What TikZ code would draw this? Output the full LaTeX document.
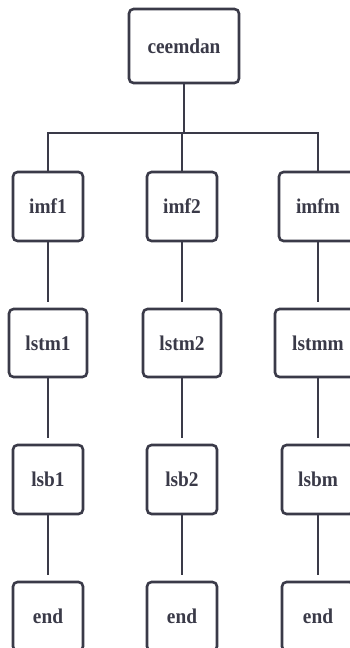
\documentclass[tikz,border=0pt]{standalone}
\usepackage{fontspec}
\setmainfont{Liberation Serif}[FakeStretch=0.92]
\begin{document}
\begin{tikzpicture}[x=1pt,y=-1pt,
  every node/.style={font=\fontsize{21}{24}\selectfont\bfseries, text=ink},
  stepbox/.style={draw=ink, line width=2.6pt, rounded corners=4.5pt, fill=white,
    minimum width=70pt, minimum height=69pt, inner sep=0pt},
  widebox/.style={stepbox, minimum width=78pt, minimum height=68pt},
  link/.style={draw=ink, line width=2.6pt},
  gaplink/.style={link, shorten >=6pt}]
\definecolor{ink}{HTML}{3A3A48}
\useasboundingbox (0,0) rectangle (350,648);
\fill[white] (0,0) rectangle (350,648);

% root and the bus that feeds the three branches
\node[stepbox, minimum width=110pt, minimum height=74pt] (root) at (184,46) {ceemdan};
\coordinate (bus) at (184,133);

% column 1
\node[stepbox] (imf1) at (48,206.5) {imf1};
\node[widebox] (lstm1) at (48,343) {lstm1};
\node[stepbox] (lsb1) at (48,479.5) {lsb1};
\node[stepbox] (end1) at (48,616.5) {end};

% column 2
\node[stepbox] (imf2) at (182,206.5) {imf2};
\node[widebox] (lstm2) at (182,343) {lstm2};
\node[stepbox] (lsb2) at (182,479.5) {lsb2};
\node[stepbox] (end2) at (182,616.5) {end};

% column m
\node[widebox, minimum height=69pt] (imfm) at (318,206.5) {imfm};
\node[widebox, minimum width=86pt] (lstmm) at (318,343) {lstmm};
\node[stepbox, minimum width=72pt] (lsbm) at (318,479.5) {lsbm};
\node[stepbox, minimum width=72pt] (endm) at (318,616.5) {end};

% tree connectors
\draw[link] (root.south) -- (bus);
\draw[link] (bus) -| (imf1.north);
\draw[link] (bus) -| (imf2.north);
\draw[link] (bus) -| (imfm.north);

% chains
\foreach \c in {1,2,m}{
  \draw[gaplink] (imf\c.south) -- (lstm\c.north);
  \draw[gaplink] (lstm\c.south) -- (lsb\c.north);
  \draw[gaplink] (lsb\c.south) -- (end\c.north);
}
\end{tikzpicture}
\end{document}
